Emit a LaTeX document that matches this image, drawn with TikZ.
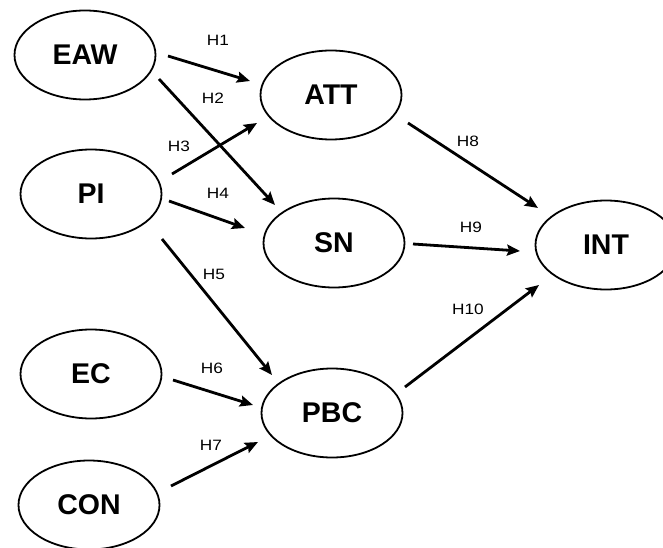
\documentclass[tikz,border=0pt]{standalone}
\usepackage{fontspec}
\setmainfont{Liberation Sans}
\newfontfamily\hfont[FakeStretch=1.15]{Liberation Sans}
\usetikzlibrary{arrows.meta,shapes.geometric}
\tikzset{
  var/.style={draw=black, line width=1.8pt, ellipse, minimum width=141pt, minimum height=89pt, inner sep=0pt, font=\fontsize{28.5}{31}\selectfont\bfseries},
  hyp/.style={line width=2.8pt, -{Stealth[length=13pt,width=11pt,inset=2pt]}},
  hlab/.style={font=\hfont\fontsize{15}{17}\selectfont, inner sep=0pt}
}
\begin{document}
\begin{tikzpicture}[x=1pt,y=-1pt]
\useasboundingbox (0,0) rectangle (663,548);
\clip (0,0) rectangle (663,548);
\fill[white] (0,0) rectangle (663,548);
\node[var] (EAW) at (85,55) {EAW};
\node[var] (PI) at (91,194) {PI};
\node[var] (EC) at (91,374) {EC};
\node[var] (CON) at (89,505) {CON};
\node[var] (ATT) at (331,95) {ATT};
\node[var] (SN) at (334,243) {SN};
\node[var] (PBC) at (332,413) {PBC};
\node[var] (INT) at (606,245) {INT};

\draw[hyp] ([shift={(83,1)}]EAW.center) -- ([shift={(-81,-14)}]ATT.center);
\draw[hyp] ([shift={(74,24)}]EAW.center) -- ([shift={(-59,-38)}]SN.center);
\draw[hyp] ([shift={(81,-20)}]PI.center) -- ([shift={(-74,28)}]ATT.center);
\draw[hyp] ([shift={(78,7)}]PI.center) -- ([shift={(-89,-15)}]SN.center);
\draw[hyp] ([shift={(71,45)}]PI.center) -- ([shift={(-60,-38)}]PBC.center);
\draw[hyp] ([shift={(82,6)}]EC.center) -- ([shift={(-79,-8)}]PBC.center);
\draw[hyp] ([shift={(82,-19)}]CON.center) -- ([shift={(-74,29)}]PBC.center);
\draw[hyp] ([shift={(77,28)}]ATT.center) -- ([shift={(-68,-37)}]INT.center);
\draw[hyp] ([shift={(79,1)}]SN.center) -- ([shift={(-86,6)}]INT.center);
\draw[hyp] ([shift={(73,-26)}]PBC.center) -- ([shift={(-67,40)}]INT.center);

\node[hlab] (h1) at (218,40) {H1};
\node[hlab] (h2) at (213,98) {H2};
\node[hlab] (h3) at (179,146) {H3};
\node[hlab] (h4) at (218,193) {H4};
\node[hlab] (h5) at (214,274) {H5};
\node[hlab] (h6) at (212,368) {H6};
\node[hlab] (h7) at (211,445) {H7};
\node[hlab] (h8) at (468,141) {H8};
\node[hlab] (h9) at (471,227) {H9};
\node[hlab] (h10) at (468,309) {H10};
\end{tikzpicture}
\end{document}
